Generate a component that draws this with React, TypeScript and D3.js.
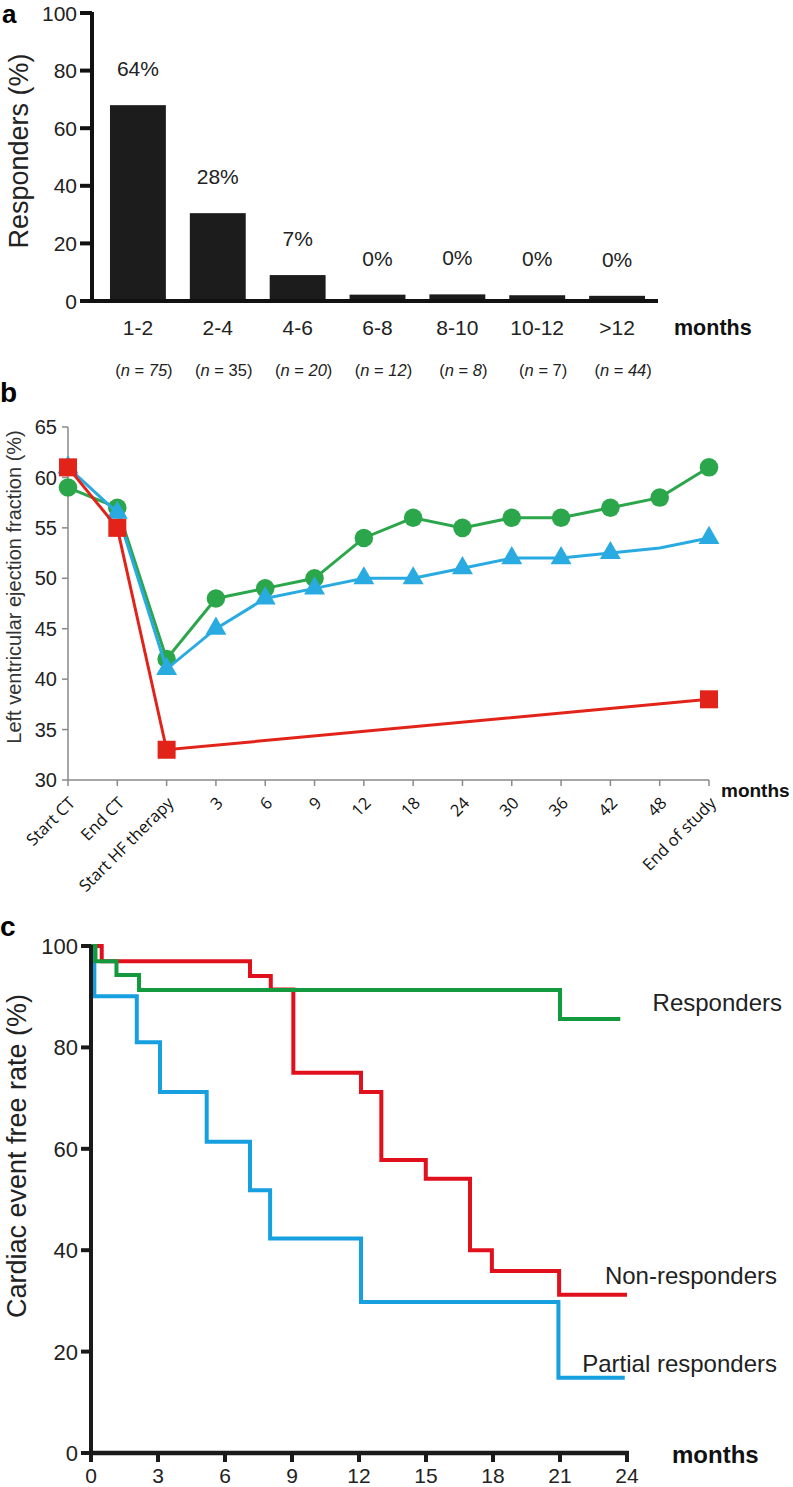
import React from "react";
import * as d3 from "d3";

// ---------- Panel a data ----------
const aCategories = ["1-2", "2-4", "4-6", "6-8", "8-10", "10-12", ">12"];
const aBarValues = [68, 30.5, 9, 2.2, 2.3, 2.0, 1.8];
const aPctLabels = ["64%", "28%", "7%", "0%", "0%", "0%", "0%"];
const aN = ["75", "35", "20", "12", "8", "7", "44"];
const aNItalic = [true, false, true, true, true, false, true];
const aYTicks = [0, 20, 40, 60, 80, 100];

// ---------- Panel b data ----------
const bCategories = ["Start  CT", "End CT", "Start HF therapy", "3", "6", "9", "12", "18", "24", "30", "36", "42", "48", "End of study"];
const bGreen = [59, 57, 42, 48, 49, 50, 54, 56, 55, 56, 56, 57, 58, 61];
const bBlue = [61, 56.5, 41, 45, 48, 49, 50, 50, 51, 52, 52, 52.5, 53, 54];
const bBlueMarker = [true, true, true, true, true, true, true, true, true, true, true, true, false, true];
const bRedCats = ["Start  CT", "End CT", "Start HF therapy", "End of study"];
const bRed = [61, 55, 33, 38];
const bYTicks = [30, 35, 40, 45, 50, 55, 60, 65];

// ---------- Panel c data ----------
const cXTicks = [0, 3, 6, 9, 12, 15, 18, 21, 24];
const cYTicks = [0, 20, 40, 60, 80, 100];
const cRespT = [0, 0.2, 1.14, 2.15, 21, 23.7];
const cRespS = [100, 97, 94.3, 91.3, 85.6, 85.6];
const cNonT = [0, 0.48, 7.12, 8.05, 9.06, 12.09, 13.0, 14.99, 16.97, 17.95, 20.96, 24];
const cNonS = [100, 97, 94.1, 91.4, 75.0, 71.2, 57.8, 54.1, 40.0, 35.9, 31.2, 31.2];
const cPartT = [0, 0.15, 2.05, 3.09, 5.18, 7.12, 8.02, 12.09, 20.93, 23.9];
const cPartS = [100, 90.1, 81.0, 71.2, 61.4, 51.8, 42.3, 29.8, 14.85, 14.85];

const ARIAL = "'Liberation Sans', Arial, Helvetica, sans-serif";
const MYRIAD = "'Open Sans', 'Noto Sans', sans-serif";

const GREEN_B = "#2ca64b";
const BLUE_B = "#29abe2";
const RED_B = "#e2231a";
const GREEN_C = "#139a3e";
const RED_C = "#e0101c";
const BLUE_C = "#16a0e0";

export default function App() {
  const W = 793, H = 1487;

  // Panel a scales
  const ax = d3.scaleBand<string>().domain(aCategories).range([98, 657]).paddingInner(0.3).paddingOuter(0.15);
  const ay = d3.scaleLinear().domain([0, 100]).range([301, 13]);

  // Panel b scales
  const bx = d3.scalePoint<string>().domain(bCategories).range([68, 709]);
  const by = d3.scaleLinear().domain([30, 65]).range([780, 427]);
  const lineB = d3.line<[string, number]>().x(d => bx(d[0]) as number).y(d => by(d[1]));
  const greenPts: [string, number][] = bCategories.map((c, i) => [c, bGreen[i]]);
  const bluePts: [string, number][] = bCategories.map((c, i) => [c, bBlue[i]]);
  const redPts: [string, number][] = bRedCats.map((c, i) => [c, bRed[i]]);
  const circ = d3.symbol().type(d3.symbolCircle).size(270)() as string;
  const tri = d3.symbol().type(d3.symbolTriangle).size(190)() as string;
  const sq = d3.symbol().type(d3.symbolSquare).size(324)() as string;

  // Panel c scales
  const cx = d3.scaleLinear().domain([0, 24]).range([91, 627]);
  const cy = d3.scaleLinear().domain([0, 100]).range([1453, 946]);
  const km = (t: number[], s: number[]) =>
    d3.line<number>().x((_, i) => cx(t[i])).y(d => cy(d)).curve(d3.curveStepAfter)(s) as string;

  return (
    <div style={{ position: "absolute", left: 0, top: 0 }}>
      <svg width={W} height={H} style={{ display: "block", background: "#fff", fontFamily: ARIAL }}>
        {/* ================= Panel a ================= */}
        <text x={2} y={23} fontSize={26} fontWeight="bold" fill="#000">a</text>
        <text transform="translate(28,151) rotate(-90)" textAnchor="middle" fontSize={27} fill="#222">Responders (%)</text>
        {aYTicks.map(t => (
          <g key={"ayt" + t}>
            <line x1={80} x2={92} y1={ay(t)} y2={ay(t)} stroke="#111" strokeWidth={4} />
            <text x={77} y={ay(t)} dy="0.36em" textAnchor="end" fontSize={21} fill="#222">{t}</text>
          </g>
        ))}
        {aCategories.map((c, i) => (
          <rect key={"bar" + c} x={ax(c)} y={ay(aBarValues[i])} width={ax.bandwidth()} height={ay(0) - ay(aBarValues[i])} fill="#1c1c1c" />
        ))}
        <line x1={92} x2={92} y1={ay(100) - 1} y2={ay(0) + 2} stroke="#111" strokeWidth={4} />
        <line x1={90} x2={658} y1={ay(0)} y2={ay(0)} stroke="#111" strokeWidth={4} />
        {aCategories.map((c, i) => (
          <g key={"alab" + c}>
            <text x={(ax(c) as number) + ax.bandwidth() / 2} y={ay(aBarValues[i]) - 29} textAnchor="middle" fontSize={21} fill="#222">{aPctLabels[i]}</text>
            <text x={(ax(c) as number) + ax.bandwidth() / 2} y={335} textAnchor="middle" fontSize={21} fill="#222">{c}</text>
            <text x={(ax(c) as number) + ax.bandwidth() / 2 + 6} y={376} textAnchor="middle" fontSize={16.5} fill="#222">
              (<tspan fontStyle="italic">n</tspan> = <tspan fontStyle={aNItalic[i] ? "italic" : "normal"}>{aN[i]}</tspan>)
            </text>
          </g>
        ))}
        <text x={674} y={335} fontSize={21.5} fontWeight="bold" fill="#111">months</text>

        {/* ================= Panel b ================= */}
        <text x={0} y={402} fontSize={28} fontWeight="bold" fill="#000">b</text>
        <text transform="translate(21,587) rotate(-90)" textAnchor="middle" fontSize={20} fill="#333">Left ventricular ejection fraction (%)</text>
        <line x1={68} x2={68} y1={by(65)} y2={by(30)} stroke="#8a8a8a" strokeWidth={1.5} />
        <line x1={68} x2={709} y1={by(30)} y2={by(30)} stroke="#8a8a8a" strokeWidth={1.5} />
        {bYTicks.map(t => (
          <g key={"byt" + t}>
            <line x1={62} x2={68} y1={by(t)} y2={by(t)} stroke="#8a8a8a" strokeWidth={1.5} />
            <text x={57} y={by(t)} dy="0.36em" textAnchor="end" fontSize={20} fill="#222">{t}</text>
          </g>
        ))}
        {bCategories.map(c => (
          <g key={"bxt" + c}>
            <line x1={bx(c)} x2={bx(c)} y1={by(30)} y2={by(30) + 6} stroke="#8a8a8a" strokeWidth={1.5} />
            <text transform={`translate(${(bx(c) as number) + 4},800) rotate(-45)`} textAnchor="end" dy="0.35em" fontSize={16.5} fontFamily={MYRIAD} fill="#111">{c}</text>
          </g>
        ))}
        <text x={721} y={797} fontSize={19} fontWeight="bold" fill="#111">months</text>
        <path d={lineB(greenPts) as string} fill="none" stroke={GREEN_B} strokeWidth={3} />
        {greenPts.map(p => (
          <path key={"gm" + p[0]} d={circ} transform={`translate(${bx(p[0])},${by(p[1])})`} fill={GREEN_B} />
        ))}
        <path d={lineB(bluePts) as string} fill="none" stroke={BLUE_B} strokeWidth={3} />
        {bluePts.map((p, i) => bBlueMarker[i] ? (
          <path key={"bm" + p[0]} d={tri} transform={`translate(${bx(p[0])},${by(p[1])})`} fill={BLUE_B} />
        ) : null)}
        <path d={lineB(redPts) as string} fill="none" stroke={RED_B} strokeWidth={3} />
        {redPts.map(p => (
          <path key={"rm" + p[0]} d={sq} transform={`translate(${bx(p[0])},${by(p[1])})`} fill={RED_B} />
        ))}

        {/* ================= Panel c ================= */}
        <text x={0} y={936} fontSize={28} fontWeight="bold" fill="#000">c</text>
        <text transform="translate(26,1156) rotate(-90)" textAnchor="middle" fontSize={27} fill="#222">Cardiac event free rate (%)</text>
        <path d={km(cNonT, cNonS)} fill="none" stroke={RED_C} strokeWidth={4} />
        <path d={km(cPartT, cPartS)} fill="none" stroke={BLUE_C} strokeWidth={4} />
        <path d={km(cRespT, cRespS)} fill="none" stroke={GREEN_C} strokeWidth={4} />
        <line x1={91} x2={91} y1={cy(100) - 1} y2={cy(0) + 2} stroke="#1a1a1a" strokeWidth={4} />
        <line x1={89} x2={629} y1={cy(0)} y2={cy(0)} stroke="#1a1a1a" strokeWidth={4.5} />
        {cYTicks.map(t => (
          <g key={"cyt" + t}>
            <line x1={81} x2={91} y1={cy(t)} y2={cy(t)} stroke="#1a1a1a" strokeWidth={4} />
            <text x={78} y={cy(t)} dy="0.36em" textAnchor="end" fontSize={22} fill="#222">{t}</text>
          </g>
        ))}
        {cXTicks.map(t => (
          <g key={"cxt" + t}>
            <line x1={cx(t)} x2={cx(t)} y1={cy(0)} y2={cy(0) + 9} stroke="#1a1a1a" strokeWidth={4} />
            <text x={cx(t)} y={1483} textAnchor="middle" fontSize={21} fill="#222">{t}</text>
          </g>
        ))}
        <text x={672} y={1463} fontSize={24} fontWeight="bold" fill="#111">months</text>
        <text x={782} y={cy(87.2)} textAnchor="end" fontSize={24} fill="#222">Responders</text>
        <text x={777} y={cy(33.4)} textAnchor="end" fontSize={24} fill="#222">Non-responders</text>
        <text x={777} y={cy(16.0)} textAnchor="end" fontSize={24} fill="#222">Partial responders</text>
      </svg>
    </div>
  );
}
